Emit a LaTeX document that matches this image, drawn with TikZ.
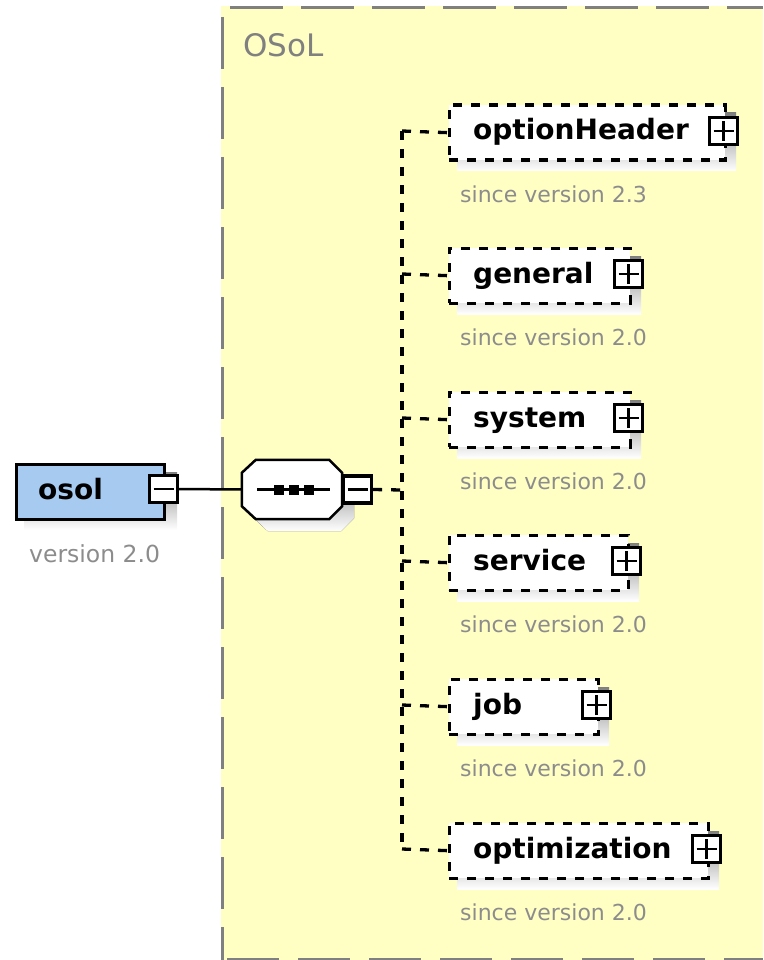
\documentclass[tikz,border=0pt]{standalone}
\usepackage{fontspec}
\setmainfont{DejaVu Sans}
\definecolor{panel}{RGB}{255,255,196}
\definecolor{rim}{RGB}{128,128,128}
\definecolor{shade}{RGB}{192,192,192}
\definecolor{rootfill}{RGB}{166,202,240}
\definecolor{note}{RGB}{140,140,140}

\begin{document}
\begin{tikzpicture}[x=1pt,y=-1pt,
  elembox/.style={draw=black, line width=3.3pt, dash pattern=on 9pt off 9pt,
    fill=white, minimum height=55, inner sep=0pt, anchor=north west},
  rootbox/.style={draw=black, line width=3.3pt, fill=rootfill,
    minimum width=148, minimum height=55, inner sep=0pt, anchor=north west},
  toggle/.style={draw=black, line width=3.3pt, fill=white,
    minimum width=28, minimum height=27, inner sep=0pt},
  conn/.style={draw=black, line width=3.3pt, dash pattern=on 9pt off 9pt},
  solidline/.style={draw=black, line width=2.5pt},
  namefont/.style={font=\bfseries\fontsize{28}{30}\selectfont, inner sep=0pt, anchor=base west},
  notefont/.style={font=\fontsize{22}{24}\selectfont, text=note, inner sep=0pt, anchor=base west},
]
\useasboundingbox (0,0) rectangle (763,960);

% model group panel
\fill[panel] (221,6) rectangle (763,960);
\draw[rim, line width=3pt, dash pattern=on 53pt off 18pt] (230,7.5) -- (763,7.5);
\draw[rim, line width=3pt, dash pattern=on 52pt off 18pt] (222.5,17) -- (222.5,960);
\draw[rim, line width=3pt, dash pattern=on 52pt off 19pt] (227,959.5) -- (763,959.5);
\node[font=\fontsize{31}{33}\selectfont, text=rim, inner sep=0pt, anchor=base west]
  (paneltitle) at (243,57) {OSoL};

% root element
\fill[shade] (24,472) rectangle (177,530);
\node[rootbox] (osol) at (14.5,462.5) {};
\node[namefont] (osolname) at (38,499) {osol};
\node[toggle] (osolminus) at (163.5,489) {};
\draw[solidline] ([xshift=-10pt]osolminus.center) -- ([xshift=10pt]osolminus.center);
\node[font=\fontsize{23.5}{25}\selectfont, text=note, inner sep=0pt, anchor=base west]
  (osolver) at (29,562) {version 2.0};

% sequence compositor (octagon with a shadow offset by 12,12)
\node[minimum width=100, minimum height=59, inner sep=0pt] (seq) at (292,489.5) {};
\fill[shade] ([shift={(26,12)}]seq.north west) -- ([shift={(-1,12)}]seq.north east)
  -- ([shift={(12,25)}]seq.north east) -- ([shift={(12,-1)}]seq.south east)
  -- ([shift={(-1,12)}]seq.south east) -- ([shift={(26,12)}]seq.south west)
  -- ([shift={(12,-1)}]seq.south west) -- ([shift={(12,25)}]seq.north west) -- cycle;
\draw[solidline, fill=white] ([shift={(14,0)}]seq.north west) -- ([shift={(-13,0)}]seq.north east)
  -- ([shift={(0,13)}]seq.north east) -- ([shift={(0,-13)}]seq.south east)
  -- ([shift={(-13,0)}]seq.south east) -- ([shift={(14,0)}]seq.south west)
  -- ([shift={(0,-13)}]seq.south west) -- ([shift={(0,13)}]seq.north west) -- cycle;
\draw[solidline] ([xshift=-35pt]seq.center) -- ([xshift=38pt]seq.center);
\foreach \dx in {-13,2,17}
  \fill ([shift={(\dx-5,-5)}]seq.center) rectangle ([shift={(\dx+5,5)}]seq.center);
\node[toggle] (seqminus) at (357.5,489.5) {};
\draw[solidline] ([xshift=-10pt]seqminus.center) -- ([xshift=10pt]seqminus.center);
\draw[solidline] (osolminus.east) -- (seq.west);

% bus of the sequence
\coordinate (busmid) at (402,490);
\draw[conn] (seqminus.east) -- (busmid);

% child elements
\foreach \nm/\tp/\rt/\ver in {optionHeader/102/725/2.3, general/245/630/2.0,
    system/389/630/2.0, service/532/628/2.0, job/676/598/2.0,
    optimization/820/708/2.0} {
  \fill[shade] (457,\tp+11) rectangle (\rt+11,\tp+69);
  \node[elembox, minimum width=\rt-449] (\nm) at (447.5,\tp+1.5) {};
  \node[namefont] (\nm-name) at (473,\tp+38) {\nm};
  \node[toggle] (\nm-plus) at (\rt-1.5,\tp+29) {};
  \draw[solidline] ([xshift=-10pt]\nm-plus.center) -- ([xshift=10pt]\nm-plus.center);
  \draw[solidline] ([yshift=-10pt]\nm-plus.center) -- ([yshift=10pt]\nm-plus.center);
  \coordinate (bus-\nm) at (402,\tp+29);
  \draw[conn] (bus-\nm) -- (\nm.west);
  \node[notefont] (\nm-since) at (460,\tp+100) {since version \ver};
}
\draw[conn] (bus-optionHeader) -- (bus-optimization);
\end{tikzpicture}
\end{document}
